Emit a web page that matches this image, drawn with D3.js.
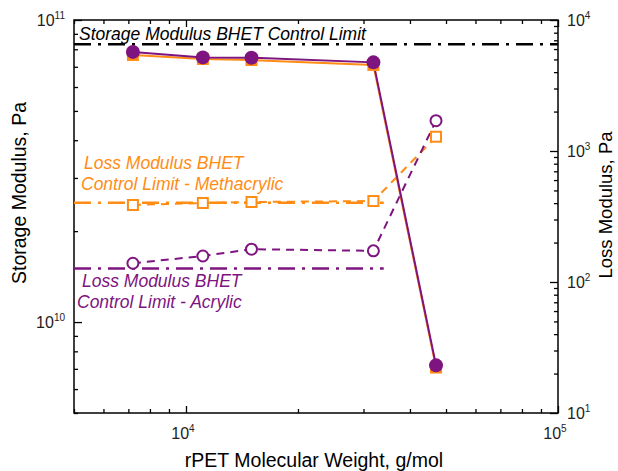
<!DOCTYPE html>
<html>
<head>
<meta charset="utf-8">
<script src="https://cdn.jsdelivr.net/npm/d3@7"></script>
<style>
    body { margin: 0; background: #fff; }
    text { font-family: "Liberation Sans", Arial, sans-serif; }
</style>
</head>
<body>
<div id="chart"></div>
<script>
// values
var molWeight = [7200, 11100, 15000, 31900, 47000];
var storageAcrylic = [7.84e10, 7.52e10, 7.50e10, 7.24e10, 7.19e9];
var storageMeth = [7.66e10, 7.43e10, 7.37e10, 7.10e10, 7.07e9];
var lossAcrylic = [139, 158, 178, 173, 1703];
var lossMeth = [387, 401, 408, 415, 1285];

var storageLimit = 8.31e10;
var storageLimitRange = [5000, 100000];
var lossLimitMeth = 403;
var lossLimitAcrylic = 127;
var lossLimitRange = [5000, 34000];

var xTicks = [1e4, 1e5];
var yLeftTicks = [1e10, 1e11];
var yRightTicks = [1e1, 1e2, 1e3, 1e4];

var orange = "#ff8c14";
var purple = "#7e1480";

var svgWidth = 618;
var svgHeight = 471;
var margin = { top: 20, right: 60, bottom: 58, left: 74 };
var chartWidth = svgWidth - margin.left - margin.right;
var chartHeight = svgHeight - margin.top - margin.bottom;

var svg = d3.select("#chart")
    .append("svg")
    .attr("width", svgWidth)
    .attr("height", svgHeight);

var chartGroup = svg.append("g")
    .attr("transform", `translate(${margin.left}, ${margin.top})`);

var xScale = d3.scaleLog().domain([5000, 100000]).range([0, chartWidth]);
var yLeft = d3.scaleLog().domain([5e9, 1e11]).range([chartHeight, 0]);
var yRight = d3.scaleLog().domain([10, 1e4]).range([chartHeight, 0]);

// minor ticks 2..9 x 10^k that fall inside a domain
function minorTicks(scale) {
    var dom = scale.domain();
    var out = [];
    for (var e = Math.floor(Math.log10(dom[0])); e <= Math.ceil(Math.log10(dom[1])); e++) {
        for (var m = 2; m <= 9; m++) {
            var v = m * Math.pow(10, e);
            if (v >= dom[0] && v <= dom[1]) out.push(v);
        }
    }
    return out;
}

function addAxis(axis, transform) {
    var g = chartGroup.append("g")
        .attr("transform", transform)
        .call(axis);
    g.select(".domain").remove();
    g.selectAll("text").remove();
    g.selectAll("line").attr("stroke", "#000").attr("stroke-width", 1.3);
}

// ticks point inward on every side
addAxis(d3.axisBottom(xScale).tickValues(xTicks).tickSizeInner(-7).tickSizeOuter(0), `translate(0, ${chartHeight})`);
addAxis(d3.axisBottom(xScale).tickValues(minorTicks(xScale)).tickSizeInner(-4).tickSizeOuter(0), `translate(0, ${chartHeight})`);
addAxis(d3.axisTop(xScale).tickValues(xTicks).tickSizeInner(-7).tickSizeOuter(0), "translate(0, 0)");
addAxis(d3.axisTop(xScale).tickValues(minorTicks(xScale)).tickSizeInner(-4).tickSizeOuter(0), "translate(0, 0)");
addAxis(d3.axisLeft(yLeft).tickValues(yLeftTicks).tickSizeInner(-8).tickSizeOuter(0), "translate(0, 0)");
addAxis(d3.axisLeft(yLeft).tickValues(minorTicks(yLeft)).tickSizeInner(-4).tickSizeOuter(0), "translate(0, 0)");
addAxis(d3.axisRight(yRight).tickValues(yRightTicks).tickSizeInner(-8).tickSizeOuter(0), `translate(${chartWidth}, 0)`);
addAxis(d3.axisRight(yRight).tickValues(minorTicks(yRight)).tickSizeInner(-4).tickSizeOuter(0), `translate(${chartWidth}, 0)`);

chartGroup.append("rect")
    .attr("width", chartWidth)
    .attr("height", chartHeight)
    .attr("fill", "none")
    .attr("stroke", "#000")
    .attr("stroke-width", 1.5);

// power-of-ten tick labels
function powLabel(x, y, v, anchor) {
    var t = chartGroup.append("text")
        .attr("x", x)
        .attr("y", y)
        .attr("text-anchor", anchor)
        .attr("font-size", 16)
        .attr("fill", "#222");
    t.append("tspan").text("10");
    t.append("tspan")
        .attr("font-size", 10)
        .attr("dy", -7)
        .text(Math.round(Math.log10(v)));
}

xTicks.forEach(v => powLabel(xScale(v) - 3, chartHeight + 26, v, "middle"));
yLeftTicks.forEach(v => powLabel(-9, yLeft(v) + 6, v, "end"));
yRightTicks.forEach(v => powLabel(chartWidth + 9, yRight(v) + 6, v, "start"));

// control limits
function hLine(range, yVal, scale, color, width) {
    chartGroup.append("line")
        .attr("x1", xScale(range[0]))
        .attr("x2", xScale(range[1]))
        .attr("y1", scale(yVal))
        .attr("y2", scale(yVal))
        .attr("stroke", color)
        .attr("stroke-width", width)
        .attr("stroke-dasharray", "17,7,3,7");
}

hLine(storageLimitRange, storageLimit, yLeft, "#000", 2.5);
hLine(lossLimitRange, lossLimitMeth, yRight, orange, 2.5);
hLine(lossLimitRange, lossLimitAcrylic, yRight, purple, 2.5);

// series
function series(values, scale, color, dashed) {
    var pts = molWeight.map((m, i) => [xScale(m), scale(values[i])]);
    chartGroup.append("path")
        .attr("d", d3.line()(pts))
        .attr("fill", "none")
        .attr("stroke", color)
        .attr("stroke-width", 2)
        .attr("stroke-dasharray", dashed ? "8,6" : null);
    return pts;
}

var lm = series(lossMeth, yRight, orange, true);
var la = series(lossAcrylic, yRight, purple, true);
var sm = series(storageMeth, yLeft, orange, false);
var sa = series(storageAcrylic, yLeft, purple, false);

chartGroup.selectAll(".lossSq")
    .data(lm)
    .enter()
    .append("rect")
    .attr("x", d => d[0] - 5)
    .attr("y", d => d[1] - 5)
    .attr("width", 10)
    .attr("height", 10)
    .attr("fill", "#fff")
    .attr("stroke", orange)
    .attr("stroke-width", 2);

chartGroup.selectAll(".lossCirc")
    .data(la)
    .enter()
    .append("circle")
    .attr("cx", d => d[0])
    .attr("cy", d => d[1])
    .attr("r", 5.5)
    .attr("fill", "#fff")
    .attr("stroke", purple)
    .attr("stroke-width", 2);

chartGroup.selectAll(".storSq")
    .data(sm)
    .enter()
    .append("rect")
    .attr("x", d => d[0] - 6)
    .attr("y", d => d[1] - 6)
    .attr("width", 12)
    .attr("height", 12)
    .attr("fill", orange);

chartGroup.selectAll(".storCirc")
    .data(sa)
    .enter()
    .append("circle")
    .attr("cx", d => d[0])
    .attr("cy", d => d[1])
    .attr("r", 7)
    .attr("fill", purple);

// annotations
function note(x, y, str, color) {
    svg.append("text")
        .attr("x", x)
        .attr("y", y)
        .attr("font-size", 17.5)
        .attr("font-style", "italic")
        .attr("fill", color)
        .text(str);
}

note(79, 40, "Storage Modulus BHET Control Limit", "#000");
note(84, 169, "Loss Modulus BHET", orange);
note(81, 190, "Control Limit - Methacrylic", orange);
note(82, 287, "Loss Modulus BHET", purple);
note(77, 308, "Control Limit - Acrylic", purple);

// axis titles
svg.append("text")
    .attr("transform", "translate(26, 193) rotate(-90)")
    .attr("text-anchor", "middle")
    .attr("font-size", 19.5)
    .text("Storage Modulus, Pa");

svg.append("text")
    .attr("transform", "translate(612, 205) rotate(-90)")
    .attr("text-anchor", "middle")
    .attr("font-size", 18.5)
    .text("Loss Modulus, Pa");

svg.append("text")
    .attr("x", 314)
    .attr("y", 467)
    .attr("text-anchor", "middle")
    .attr("font-size", 19.5)
    .text("rPET Molecular Weight, g/mol");
</script>
</body>
</html>
